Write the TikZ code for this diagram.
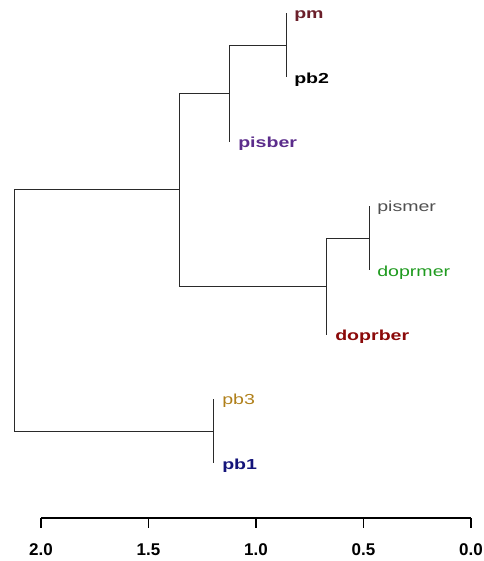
\documentclass[tikz,border=0pt]{standalone}
\usepackage{fontspec}
\setmainfont{Liberation Sans}
\definecolor{cpm}{HTML}{6B1F2A}
\definecolor{cpisber}{HTML}{5B2C8B}
\definecolor{cpismer}{HTML}{505050}
\definecolor{cdoprmer}{HTML}{1E9A1E}
\definecolor{cdoprber}{HTML}{8B0A0A}
\definecolor{cpb3}{HTML}{B0801A}
\definecolor{cpb1}{HTML}{14147A}
\definecolor{edge}{HTML}{2A2A2A}
\tikzset{
  branch/.style={draw=edge, line width=0.9pt},
  leaflab/.style={anchor=base west, inner sep=0pt, xscale=1.35, font=\fontsize{14.5}{14.5}\selectfont},
  axislab/.style={anchor=center, inner sep=0pt, font=\fontsize{17}{17}\selectfont\bfseries},
}
\begin{document}
\begin{tikzpicture}[x=1pt,y=-1pt]
\useasboundingbox (0,0) rectangle (483,561);
% leaves
\coordinate (pm) at (286,13);
\coordinate (pb2) at (286,77.3);
\coordinate (pisber) at (229,141.6);
\coordinate (pismer) at (369,205.9);
\coordinate (doprmer) at (369,270.2);
\coordinate (doprber) at (326,334.5);
\coordinate (pb3) at (213,398.8);
\coordinate (pb1) at (213,463.1);
% merges
\coordinate (n1) at (286,45.15);
\coordinate (n2) at (229,93.4);
\coordinate (n3) at (369,238.05);
\coordinate (n4) at (326,286.3);
\coordinate (n5) at (179,189.85);
\coordinate (n6) at (213,430.95);
\coordinate (root) at (14,310.4);
% branches
\draw[branch] (n1) |- (pm);
\draw[branch] (n1) |- (pb2);
\draw[branch] (n2) |- (n1);
\draw[branch] (n2) |- (pisber);
\draw[branch] (n3) |- (pismer);
\draw[branch] (n3) |- (doprmer);
\draw[branch] (n4) |- (n3);
\draw[branch] (n4) |- (doprber);
\draw[branch] (n5) |- (n2);
\draw[branch] (n5) |- (n4);
\draw[branch] (n6) |- (pb3);
\draw[branch] (n6) |- (pb1);
\draw[branch] (root) |- (n5);
\draw[branch] (root) |- (n6);
% labels
\node[leaflab, text=cpm] (lpm) at ([xshift=8pt,yshift=-6pt]pm) {\bfseries pm};
\node[leaflab, text=black] (lpb2) at ([xshift=8pt,yshift=-6pt]pb2) {\bfseries pb2};
\node[leaflab, text=cpisber] (lpisber) at ([xshift=9pt,yshift=-6pt]pisber) {\bfseries pisber};
\node[leaflab, text=cpismer] (lpismer) at ([xshift=8pt,yshift=-5.5pt]pismer) {pismer};
\node[leaflab, text=cdoprmer] (ldoprmer) at ([xshift=8pt,yshift=-6pt]doprmer) {doprmer};
\node[leaflab, text=cdoprber] (ldoprber) at ([xshift=9pt,yshift=-6pt]doprber) {\bfseries doprber};
\node[leaflab, text=cpb3] (lpb3) at ([xshift=9pt,yshift=-5.5pt]pb3) {pb3};
\node[leaflab, text=cpb1] (lpb1) at ([xshift=9pt,yshift=-6pt]pb1) {\bfseries pb1};
% axis
\coordinate (a0) at (41,518);
\coordinate (a1) at (148.5,518);
\coordinate (a2) at (256,518);
\coordinate (a3) at (363.5,518);
\coordinate (a4) at (471,518);
\draw[branch, line width=1.2pt, draw=black] (a0) -- (a4);
\foreach \c/\t in {a0/2.0, a1/1.5, a2/1.0, a3/0.5, a4/0.0}{
  \draw[branch, line width=1.2pt, draw=black] (\c) -- ++(0,10);
  \node[axislab] (lab\c) at ([yshift=-32pt]\c) {\t};
}
\end{tikzpicture}
\end{document}
